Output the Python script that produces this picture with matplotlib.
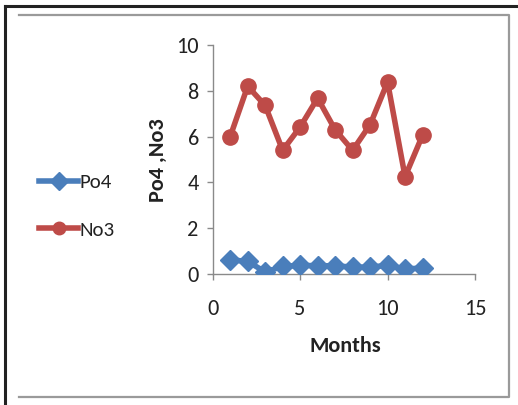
import matplotlib
matplotlib.use("Agg")
import matplotlib.pyplot as plt
from matplotlib.lines import Line2D
from matplotlib import font_manager

months = [1, 2, 3, 4, 5, 6, 7, 8, 9, 10, 11, 12]
po4 = [0.62, 0.55, 0.09, 0.33, 0.38, 0.36, 0.36, 0.30, 0.30, 0.38, 0.22, 0.26]
no3 = [6.0, 8.2, 7.36, 5.4, 6.42, 7.68, 6.3, 5.4, 6.52, 8.38, 4.25, 6.06]
x_ticks = [0, 5, 10, 15]
y_ticks = [0, 2, 4, 6, 8, 10]

names = {f.name for f in font_manager.fontManager.ttflist}
family = "Liberation Sans"
for cand in ["Carlito", "Liberation Sans Narrow", "Lato"]:
    if cand in names:
        family = cand
        break
plt.rcParams["font.family"] = [family, "DejaVu Sans"]

W, H = 518, 405
fig = plt.figure(figsize=(W / 100, H / 100), dpi=100)
fig.patch.set_facecolor("white")

def fx(px):
    return px / W

def fy(py):
    return 1 - py / H

# frame lines around the chart area
frame = fig.add_axes([0, 0, 1, 1])
frame.set_xlim(0, W)
frame.set_ylim(H, 0)
frame.axis("off")
frame.plot([5, W], [6, 6], color="#222222", lw=2.2)
frame.plot([5, 5], [6, H], color="#222222", lw=2.2)
frame.plot([19, 509, 509, 19], [15, 15, 397, 397], color="#9a9a9a", lw=1.6)

ax = fig.add_axes([fx(212.7), fy(274), fx(475) - fx(212.7), fy(45) - fy(274)])
ax.set_facecolor("none")
blue = "#4A7EBB"
red = "#BE4B48"
ax.plot(months, po4, color=blue, lw=4, marker="D", ms=10, mfc=blue, mec=blue, zorder=3)
ax.plot(months, no3, color=red, lw=4, marker="o", ms=11, mfc=red, mec=red, zorder=3)
ax.set_xlim(0, 15)
ax.set_ylim(0, 10)
ax.set_xticks(x_ticks)
ax.set_yticks(y_ticks)
for s in ["top", "right"]:
    ax.spines[s].set_visible(False)
for s in ["left", "bottom"]:
    ax.spines[s].set_color("#8a8a8a")
    ax.spines[s].set_linewidth(1.0)
ax.tick_params(axis="both", colors="#8a8a8a", length=4, width=1.0, labelsize=16, labelcolor="#222222")
ax.tick_params(axis="y", pad=6)
ax.tick_params(axis="x", pad=14)

fig.text(fx(345), fy(346), "Months", ha="center", va="center", fontsize=16, fontweight="bold", color="#222222")
fig.text(fx(158), fy(160), "Po4 ,No3", ha="center", va="center", rotation=90, fontsize=16, fontweight="bold", color="#222222")

handles = [
    Line2D([], [], color=blue, lw=4, marker="D", ms=9, mfc=blue, mec=blue),
    Line2D([], [], color=red, lw=4, marker="o", ms=9, mfc=red, mec=red),
]
fig.legend(handles, ["Po4", "No3"], loc="center left", bbox_to_anchor=(fx(20), fy(206)),
           frameon=False, fontsize=15, handlelength=1.9, handletextpad=0.05, labelspacing=1.45,
           labelcolor="#222222")

fig.savefig("out.png", dpi=100)
